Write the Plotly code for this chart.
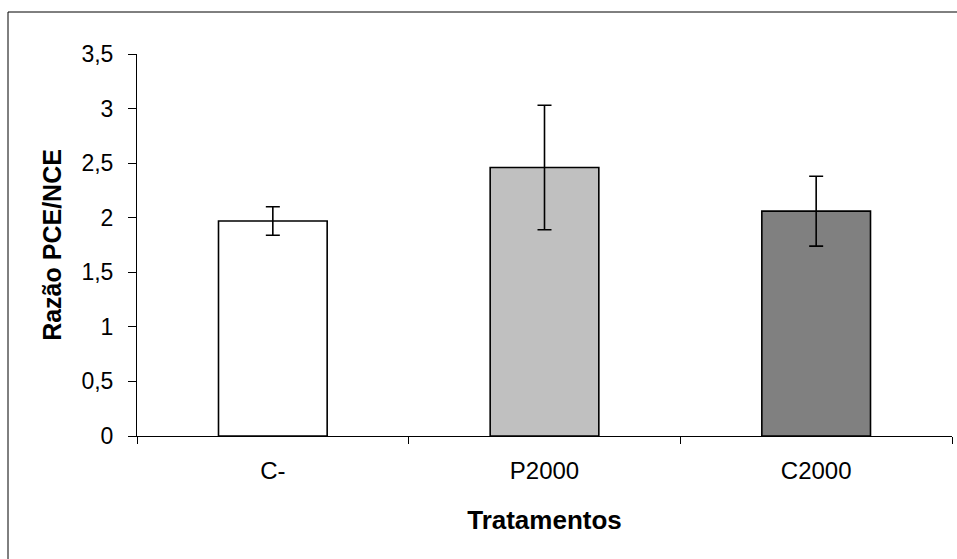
import plotly.graph_objects as go

# Treatment groups and measured PCE/NCE ratios (mean and error)
categories = ["C-", "P2000", "C2000"]
ratio_mean = [1.97, 2.46, 2.06]
ratio_err = [0.13, 0.57, 0.32]
bar_colors = ["#FFFFFF", "#C0C0C0", "#808080"]

y_tick_vals = [0, 0.5, 1, 1.5, 2, 2.5, 3, 3.5]
y_tick_text = ["0", "0,5", "1", "1,5", "2", "2,5", "3", "3,5"]

W, H = 957, 559
ML, MR, MT, MB = 137, 5, 54, 123
pw = W - ML - MR
ph = H - MT - MB

font_family = "Arial, 'Liberation Sans', sans-serif"

fig = go.Figure(
    go.Bar(
        x=categories,
        y=ratio_mean,
        marker=dict(color=bar_colors, line=dict(color="black", width=1.6)),
        error_y=dict(type="data", array=ratio_err, visible=True,
                     color="black", thickness=1.6, width=7),
        width=0.4,
    )
)

fig.update_layout(
    width=W, height=H,
    margin=dict(l=ML, r=MR, t=MT, b=MB),
    paper_bgcolor="white", plot_bgcolor="white",
    font=dict(family=font_family, size=24, color="black"),
    showlegend=False,
    xaxis=dict(
        showline=True, linecolor="black", linewidth=1,
        ticks="outside", ticklen=7, tickcolor="black",
        tickson="boundaries",
        showgrid=False,
        tickfont=dict(size=24),
        ticklabelstandoff=13,
        title=dict(text="<b>Tratamentos</b>", font=dict(size=26), standoff=28),
    ),
    yaxis=dict(
        range=[0, 3.5],
        tickvals=y_tick_vals, ticktext=y_tick_text,
        showline=True, linecolor="black", linewidth=1,
        ticks="outside", ticklen=8, tickcolor="black",
        showgrid=False, zeroline=False,
        tickfont=dict(size=23),
        ticklabelstandoff=10,
        title=dict(text="<b>Razão PCE/NCE</b>", font=dict(size=25), standoff=12),
    ),
)

# Outer chart frame (left and top edges fall inside the canvas)
fig.add_shape(
    type="rect", xref="paper", yref="paper",
    x0=(8 - ML) / pw, x1=(W + 20 - ML) / pw,
    y0=(H - MB - (H + 20)) / ph, y1=(H - MB - 12) / ph,
    line=dict(color="black", width=1), fillcolor="rgba(0,0,0,0)",
    layer="below",
)

fig.write_html("out.html")
